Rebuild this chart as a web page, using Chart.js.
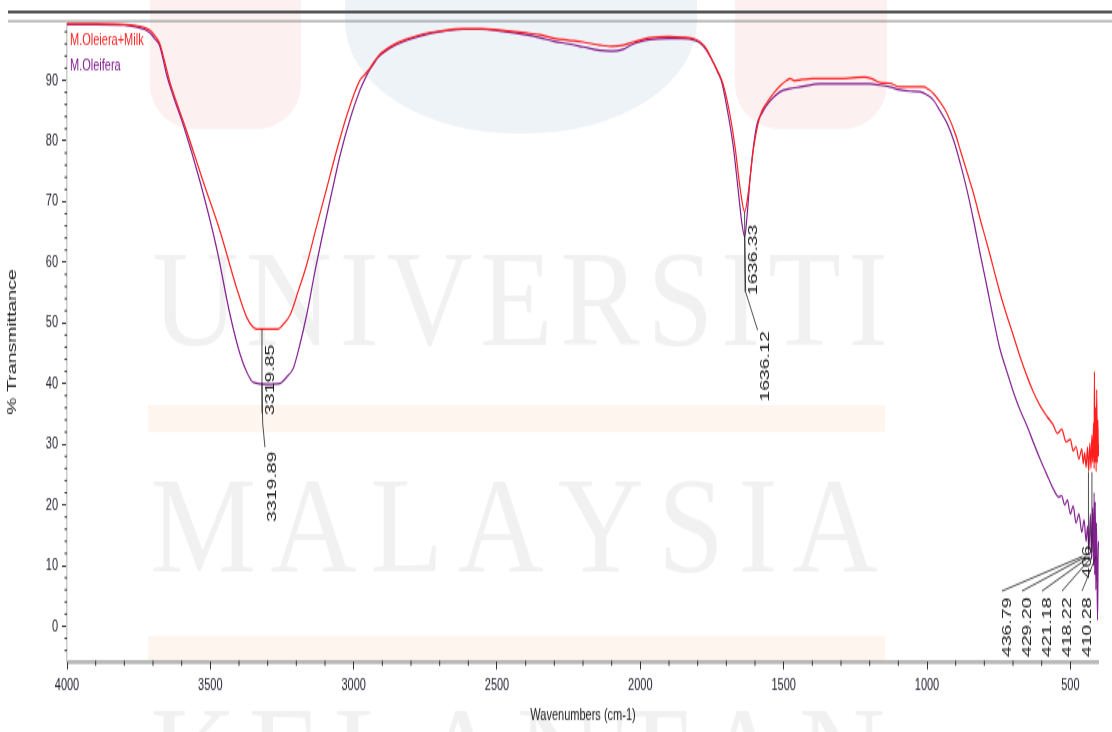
<!DOCTYPE html>
<html>
<head>
<meta charset="utf-8">
<title>FTIR M.Oleifera</title>
<script src="https://cdn.jsdelivr.net/npm/chart.js@4.4.0/dist/chart.umd.min.js"></script>
<style>
  html, body { margin: 0; padding: 0; background: #fff; overflow: hidden; }
  #wrap { width: 1112px; height: 732px; position: relative; }
  /* the original picture is stretched vertically, so the canvas is too */
  #ftir { position: absolute; left: 0; top: 0; transform: scaleY(1.5); transform-origin: 0 0; }
</style>
</head>
<body>
<div id="wrap"><canvas id="ftir" width="1112" height="488"></canvas></div>
<script>
var seriesNames = ['M.Oleiera+Milk', 'M.Oleifera'];
var xTicks = [4000, 3500, 3000, 2500, 2000, 1500, 1000, 500];
var yTicks = [0, 10, 20, 30, 40, 50, 60, 70, 80, 90];

var milkWave = [4000, 3900, 3800, 3760, 3730, 3710, 3695, 3676, 3660, 3641, 3610, 3582, 3525, 3466, 3408, 3373, 3351, 3340,
    3264, 3245, 3222, 3195, 3164, 3130, 3094, 3060, 3024, 2978, 2960, 2943, 2925, 2910, 2870, 2820, 2760, 2700, 2620,
    2550, 2500, 2400, 2350, 2300, 2250, 2200, 2140, 2100, 2060, 2025, 1966, 1900, 1851, 1810, 1791, 1770, 1746, 1725,
    1711, 1687, 1669, 1652, 1636, 1622, 1605, 1582, 1560, 1536, 1510, 1489, 1478, 1462, 1440, 1400, 1300, 1220, 1190,
    1163, 1130, 1094, 1048, 1012, 995, 977, 954, 930, 900, 884, 860, 838, 815, 791, 768, 745, 720, 698, 675, 651, 628,
    605, 580, 560, 545, 530, 515, 500, 490, 480, 470, 460, 455, 450, 445, 440, 436, 432, 428, 425, 422, 419, 417, 416,
    414, 412, 410, 408, 406, 404, 402, 400];
var milkT = [99.3, 99.3, 99.2, 99.0, 98.7, 98.2, 97.4, 96.0, 93.2, 89.7, 85.3, 81.5, 73.3, 65.1, 55.7, 50.9, 49.3, 49.0,
    49.0, 49.8, 51.3, 55.0, 59.6, 65.8, 72.2, 78.3, 84.2, 90.0, 91.0, 92.0, 93.3, 94.2, 95.6, 96.7, 97.6, 98.1, 98.5,
    98.5, 98.3, 97.8, 97.5, 96.9, 96.6, 96.3, 95.8, 95.6, 95.8, 96.3, 97.0, 97.2, 97.1, 96.8, 96.3, 95.2, 93.0, 91.0,
    89.3, 84.2, 78.8, 72.2, 68.3, 72.0, 78.8, 84.2, 86.2, 87.8, 89.2, 90.0, 90.3, 89.9, 90.1, 90.3, 90.3, 90.5, 90.2,
    89.6, 89.5, 88.9, 88.9, 88.9, 88.5, 87.8, 86.4, 84.5, 81.0, 78.5, 74.8, 71.4, 67.2, 63.1, 59.0, 54.9, 51.0, 47.8,
    44.4, 41.2, 38.5, 36.3, 34.5, 33.2, 31.8, 32.5, 30.4, 30.8, 28.9, 29.6, 27.6, 29.2, 26.8, 28.6, 26.2, 29.5, 25.5,
    30.2, 26.0, 31.5, 27.0, 33.5, 26.0, 42.0, 27.0, 36.0, 25.5, 39.0, 27.0, 34.0, 28.0, 30.0];

var oleiWave = [4000, 3900, 3800, 3760, 3730, 3710, 3695, 3676, 3665, 3652, 3625, 3594, 3536, 3478, 3431, 3396, 3370, 3350,
    3300, 3257, 3235, 3210, 3190, 3164, 3135, 3106, 3075, 3047, 3010, 2978, 2960, 2943, 2925, 2910, 2870, 2820, 2760,
    2700, 2620, 2550, 2500, 2400, 2350, 2300, 2250, 2200, 2140, 2100, 2060, 2025, 1966, 1900, 1851, 1810, 1791, 1770,
    1746, 1730, 1716, 1693, 1675, 1658, 1646, 1636, 1628, 1615, 1594, 1575, 1559, 1535, 1512, 1480, 1442, 1373, 1300,
    1200, 1163, 1130, 1094, 1060, 1024, 1000, 977, 955, 930, 905, 884, 860, 838, 815, 791, 768, 745, 720, 698, 675, 651,
    628, 605, 582, 559, 540, 530, 520, 510, 500, 490, 480, 470, 460, 452, 445, 440, 435, 430, 426, 422, 419, 417, 415,
    413, 411, 409, 407, 405, 403, 401];
var oleiT = [99.2, 99.2, 99.1, 98.8, 98.4, 97.8, 96.9, 95.6, 93.5, 90.8, 86.8, 82.6, 73.3, 62.3, 51.3, 44.8, 41.6, 40.2,
    39.9, 40.0, 41.0, 42.6, 46.0, 51.3, 58.5, 65.1, 71.8, 77.7, 84.0, 88.4, 90.3, 91.8, 93.1, 94.0, 95.4, 96.5, 97.4,
    98.0, 98.4, 98.4, 98.2, 97.5, 97.0, 96.4, 96.0, 95.5, 94.9, 94.8, 95.1, 96.0, 96.7, 96.9, 96.9, 96.6, 96.1, 95.0,
    93.0, 91.3, 89.7, 84.2, 78.8, 71.6, 66.5, 64.2, 67.5, 75.0, 82.6, 84.6, 85.9, 87.2, 88.1, 88.6, 88.9, 89.4, 89.4,
    89.4, 89.2, 88.9, 88.4, 88.2, 88.1, 87.6, 86.7, 85.0, 82.9, 79.8, 76.3, 71.8, 67.0, 61.5, 56.0, 50.6, 45.6, 41.8,
    38.5, 35.6, 33.0, 30.2, 27.5, 25.0, 22.6, 21.3, 21.5, 20.0, 20.8, 18.5, 19.8, 17.0, 18.5, 15.5, 17.5, 14.0, 16.5,
    12.5, 18.5, 11.0, 19.5, 10.0, 22.0, 8.5, 20.5, 6.0, 17.0, 9.0, 1.0, 12.0, 14.0];

// peak picks written on the spectrum
var peakText = ['3319.85', '3319.89', '1636.33', '1636.12'];
var peakWave = [3319.85, 3319.89, 1636.33, 1636.12];
var peakT = [49.0, 40.0, 68.3, 64.2];
var lowText = ['436.79', '429.20', '421.18', '418.22', '410.28'];
var lowWave = [436.79, 429.20, 421.18, 418.22, 410.28];

var sans = "'Liberation Sans', Arial, sans-serif";
var serif = "'Liberation Serif', 'DejaVu Serif', serif";

function pts(w, t) {
    return w.map(function (v, i) { return { x: v, y: t[i] }; });
}

function spreadText(ctx, text, x0, x1, baseY, size, sx) {
    ctx.font = size + 'px ' + serif;
    var ws = text.split('').map(function (c) { return ctx.measureText(c).width * sx; });
    var total = ws.reduce(function (a, b) { return a + b; }, 0);
    var gap = (x1 - x0 - total) / (text.length - 1);
    var x = x0;
    for (var i = 0; i < text.length; i++) {
        ctx.save();
        ctx.translate(x, baseY);
        ctx.scale(sx, 1);
        ctx.fillText(text[i], 0, 0);
        ctx.restore();
        x += ws[i] + gap;
    }
}

function vText(ctx, t, x, y) {
    ctx.save();
    ctx.translate(x, y);
    ctx.rotate(-Math.PI / 2);
    ctx.textAlign = 'left';
    ctx.textBaseline = 'middle';
    ctx.fillText(t, 0, 0);
    ctx.restore();
}

function seg(ctx, p) {
    ctx.beginPath();
    ctx.moveTo(p[0][0], p[0][1]);
    for (var i = 1; i < p.length; i++) ctx.lineTo(p[i][0], p[i][1]);
    ctx.stroke();
}

var decor = {
    id: 'decor',
    beforeDraw: function (chart) {
        var ctx = chart.ctx;
        var a = chart.chartArea;
        ctx.save();
        ctx.fillStyle = '#fff';
        ctx.fillRect(0, 0, chart.width, chart.height);

        // faint university watermark behind the plot
        ctx.fillStyle = '#fdf0f0';
        ctx.beginPath(); ctx.roundRect(150, -40, 151, 126, [0, 0, { x: 45, y: 30 }, { x: 45, y: 30 }]); ctx.fill();
        ctx.beginPath(); ctx.roundRect(735, -40, 152, 126, [0, 0, { x: 45, y: 30 }, { x: 45, y: 30 }]); ctx.fill();
        ctx.fillStyle = '#eef3f8';
        ctx.beginPath(); ctx.roundRect(345, -60, 352, 149, [0, 0, { x: 170, y: 75 }, { x: 170, y: 75 }]); ctx.fill();
        ctx.fillStyle = '#fef6ee';
        ctx.fillRect(148, 270, 737, 18);
        ctx.fillRect(148, 424, 737, 16);
        ctx.fillStyle = 'rgba(0,0,0,0.055)';
        ctx.textBaseline = 'alphabetic';
        spreadText(ctx, 'UNIVERSITI', 152, 888, 230, 92, 1.3);
        spreadText(ctx, 'MALAYSIA', 150, 878, 381, 92, 1.3);
        spreadText(ctx, 'KELANTAN', 150, 885, 534, 92, 1.3);

        // frame lines at the top
        ctx.strokeStyle = '#555';
        ctx.lineWidth = 1.8;
        seg(ctx, [[8, 8], [chart.width, 8]]);
        ctx.strokeStyle = '#a0a0a0';
        ctx.lineWidth = 1.2;
        seg(ctx, [[8, 14.2], [chart.width, 14.2]]);

        // x axis band
        ctx.fillStyle = '#b8b8b8';
        ctx.fillRect(a.left, a.bottom - 1.3, a.right - a.left, 2.7);
        ctx.restore();
    },
    afterDraw: function (chart) {
        var ctx = chart.ctx;
        var xs = chart.scales.x, ys = chart.scales.y;
        var a = chart.chartArea;
        ctx.save();

        // minor ticks
        ctx.fillStyle = '#333';
        for (var v = -4; v <= 98; v += 2) {
            if (v % 10 === 0) continue;
            ctx.fillRect(a.left - 2.5, ys.getPixelForValue(v) - 0.5, 2.5, 1);
        }
        for (var w = 500; w < 4000; w += 100) {
            if (w % 500 === 0) continue;
            ctx.fillRect(xs.getPixelForValue(w) - 0.5, a.bottom - 1, 1, 3.5);
        }

        // legend inside the plot
        ctx.font = '11px ' + sans;
        ctx.textAlign = 'left';
        ctx.textBaseline = 'middle';
        chart.data.datasets.forEach(function (ds, i) {
            ctx.fillStyle = ds.borderColor;
            ctx.fillText(ds.label, a.left + 3, 26.7 + i * 17.6);
        });

        // peak labels
        ctx.strokeStyle = '#222';
        ctx.fillStyle = '#1a1a1a';
        ctx.lineWidth = 0.8;
        ctx.font = '13px ' + sans;
        var px = peakWave.map(function (w) { return xs.getPixelForValue(w); });
        var py = function (t) { return ys.getPixelForValue(t); };
        seg(ctx, [[px[0], py(peakT[0])], [px[0], py(35.1)]]);
        vText(ctx, peakText[0], px[0] + 8, py(34.8));
        seg(ctx, [[px[1], py(peakT[1])], [px[1] + 0.7, py(33.5)], [px[1] + 3, py(29.5)]]);
        vText(ctx, peakText[1], px[1] + 10, py(17.2));
        seg(ctx, [[px[2], py(peakT[2])], [px[2] + 0.5, py(55.1)]]);
        vText(ctx, peakText[2], px[2] + 9, py(54.6));
        seg(ctx, [[px[3], py(peakT[3])], [px[3] + 1, py(55.1)], [px[3] + 13, py(48.8)]]);
        vText(ctx, peakText[3], px[3] + 21, py(37.0));

        // crowded picks at the low end
        var n = lowText.length;
        lowText.forEach(function (t, i) {
            var lx = a.right - 12 - (n - 1 - i) * 20;
            var wx = xs.getPixelForValue(lowWave[i]);
            seg(ctx, [[lx - 5, py(5.8)], [wx - 6 + i * 1.5, py(11.5)]]);
            vText(ctx, t, lx, py(-5.1));
        });
        seg(ctx, [[xs.getPixelForValue(lowWave[0]), py(25.4)], [xs.getPixelForValue(lowWave[0]), py(11.8)]]);
        seg(ctx, [[xs.getPixelForValue(lowWave[2]) - 1, py(25.4)], [xs.getPixelForValue(lowWave[2]) - 1, py(12.2)]]);
        vText(ctx, '406', a.right - 12, py(7.9));
        ctx.restore();
    }
};

var canvas = document.getElementById('ftir');
var chart = new Chart(canvas.getContext('2d'), {
    type: 'line',
    data: {
        datasets: [{
            label: seriesNames[0],
            data: pts(milkWave, milkT),
            borderColor: '#ff1e1e',
            borderWidth: 1.2,
            pointRadius: 0,
            fill: false,
            cubicInterpolationMode: 'monotone'
        }, {
            label: seriesNames[1],
            data: pts(oleiWave, oleiT),
            borderColor: '#82208f',
            borderWidth: 1.2,
            pointRadius: 0,
            fill: false,
            cubicInterpolationMode: 'monotone'
        }]
    },
    options: {
        responsive: false,
        animation: false,
        events: [],
        layout: { padding: { top: 14.67, right: 13, left: 0, bottom: 0 } },
        plugins: { legend: { display: false }, tooltip: { enabled: false } },
        scales: {
            x: {
                type: 'linear',
                reverse: true,
                min: 400,
                max: 4000,
                afterFit: function (s) { s.height = 46.67; },
                afterBuildTicks: function (s) { s.ticks = xTicks.map(function (v) { return { value: v }; }); },
                ticks: { maxRotation: 0, autoSkip: false, padding: 4,
                    callback: function (v) { return String(v); },
                    color: '#1e1e2e', font: { family: sans, size: 11 } },
                grid: { drawOnChartArea: false, tickLength: 5, tickColor: '#333', tickWidth: 1 },
                border: { display: false },
                title: { display: true, text: 'Wavenumbers (cm-1)', color: '#222', padding: { top: 0, bottom: 4 },
                    font: { family: sans, size: 11 } }
            },
            y: {
                min: -5.9,
                max: 99.6,
                afterFit: function (s) { s.width = 67; },
                afterBuildTicks: function (s) { s.ticks = yTicks.map(function (v) { return { value: v }; }); },
                ticks: { padding: 4, callback: function (v) { return String(v); },
                    color: '#1e1e2e', font: { family: sans, size: 11 } },
                grid: { drawOnChartArea: false, tickLength: 5, tickColor: '#333', tickWidth: 1 },
                border: { display: true, color: '#cccccc', width: 1.5 },
                title: { display: true, text: '% Transmittance', color: '#222', padding: { top: 5, bottom: 0 },
                    font: { family: sans, size: 13 } }
            }
        }
    },
    plugins: [decor]
});
</script>
</body>
</html>
